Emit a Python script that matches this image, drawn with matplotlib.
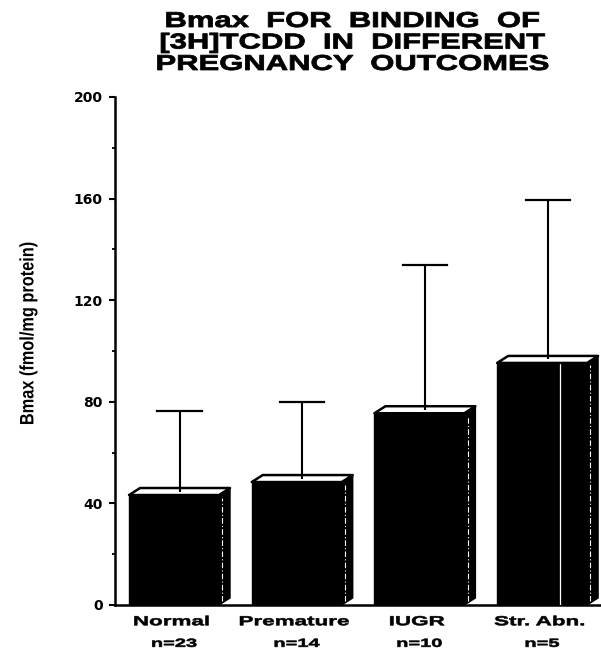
import matplotlib
matplotlib.use("Agg")
import matplotlib.pyplot as plt
import matplotlib.patheffects as pe
from matplotlib.patches import Rectangle, Polygon
from matplotlib.transforms import Affine2D
from matplotlib.ticker import MultipleLocator

# ---- data ----
categories = ["Normal", "Premature", "IUGR", "Str. Abn."]
n_labels = ["n=23", "n=14", "n=10", "n=5"]
bmax_mean = [43.3, 48.4, 75.5, 95.3]
bmax_sd = [33.2, 31.5, 58.4, 64.1]
y_ticks = [0, 40, 80, 120, 160, 200]
title = "Bmax  FOR  BINDING  OF\n[3H]TCDD  IN  DIFFERENT\nPREGNANCY  OUTCOMES"
ylabel = "Bmax (fmol/mg protein)"


class Stretch(pe.AbstractPathEffect):
    """Scale rendered text glyphs about their centre (keeps text as text)."""
    def __init__(self, sx=1.0, sy=1.0, stroke=0.0):
        super().__init__()
        self.sx, self.sy, self.stroke = sx, sy, stroke

    def draw_path(self, renderer, gc, tpath, affine, rgbFace=None):
        ext = tpath.get_extents(affine)
        cx = (ext.x0 + ext.x1) / 2
        cy = (ext.y0 + ext.y1) / 2
        t = affine + Affine2D().translate(-cx, -cy).scale(self.sx, self.sy).translate(cx, cy)
        if self.stroke > 0:
            gc0 = renderer.new_gc()
            gc0.copy_properties(gc)
            gc0.set_linewidth(self.stroke)
            gc0.set_foreground(rgbFace)
            renderer.draw_path(gc0, tpath, t, rgbFace)
            gc0.restore()
        else:
            renderer.draw_path(gc, tpath, t, rgbFace)


W, H = 601, 652
fig = plt.figure(figsize=(W / 100, H / 100), dpi=100)
ax = fig.add_axes([115 / W, (H - 605) / H, 485 / W, (605 - 97) / H])

xs = list(range(len(categories)))
bw = 0.733      # front face width
dx = 0.09       # depth offset (x)
dy = 2.76       # depth offset (y, data units)
capw = 0.36

for x, m, s in zip(xs, bmax_mean, bmax_sd):
    l, r = x - bw / 2, x + bw / 2
    ax.add_patch(Rectangle((l, 0), bw, m, facecolor="black", edgecolor="black", lw=1, zorder=2))
    ax.add_patch(Polygon([(r, 0), (r + dx, dy), (r + dx, m + dy), (r, m)],
                         closed=True, facecolor="black", edgecolor="black", lw=1, zorder=2))
    ax.plot([r + dx * 0.3, r + dx * 0.3], [dy * 0.5, m - 1], color="white",
            lw=0.8, ls=(0, (5, 2, 1, 2)), zorder=3)
    ax.add_patch(Polygon([(l, m), (l + dx, m + dy), (r + dx, m + dy), (r, m)],
                         closed=True, facecolor="white", edgecolor="black", lw=1.8,
                         joinstyle="round", zorder=4))
    ex = x + dx / 2
    ax.plot([ex, ex], [m + dy / 2, m + s], color="black", lw=1.5, zorder=5,
            solid_capstyle="butt")
    ax.plot([ex - capw / 2, ex + capw / 2], [m + s, m + s], color="black", lw=1.6, zorder=5)

# scan artefact: thin white stripe through the last bar
ax.plot([xs[-1] + 0.147] * 2, [0, bmax_mean[-1] + dy * 0.4], color="white", lw=0.9, zorder=3)

ax.set_xlim(-0.481, 3.472)
ax.set_ylim(0, 200)
ax.set_yticks(y_ticks)
ax.yaxis.set_minor_locator(MultipleLocator(20))
ax.set_yticklabels([str(v) for v in y_ticks], fontfamily="DejaVu Sans",
                   fontweight="bold", fontsize=10)
ax.tick_params(axis="y", which="major", length=4, width=1.5, pad=5, direction="out")
ax.tick_params(axis="y", which="minor", length=2.5, width=1.3, direction="out")
ax.set_xticks([])
for side in ("top", "right"):
    ax.spines[side].set_visible(False)
ax.spines["left"].set_linewidth(1.8)
ax.spines["bottom"].set_linewidth(1.8)

# category labels
for x, c, n in zip(xs, categories, n_labels):
    t1 = ax.text(x - 0.02, -6.8, c, ha="center", va="center", fontfamily="Liberation Sans",
                 fontweight="bold", fontsize=9.5, transform=ax.transData)
    t1.set_path_effects([Stretch(1.7, 1.0, stroke=0.4)])
    t2 = ax.text(x + 0.0, -15.3, n, ha="center", va="center", fontfamily="Liberation Sans",
                 fontweight="bold", fontsize=8.5, transform=ax.transData)
    t2.set_path_effects([Stretch(1.7, 1.0, stroke=0.4)])
    t1.set_clip_on(False)
    t2.set_clip_on(False)

yl = ax.set_ylabel(ylabel, fontfamily="Liberation Sans", fontweight="bold", fontsize=14)
ax.yaxis.set_label_coords(-0.16, 0.535)
yl.set_path_effects([Stretch(1.0, 0.84)])

tt = fig.text(352 / W, 1 - 11 / H, title, ha="center", va="top", fontfamily="Liberation Sans",
              fontweight="bold", fontsize=15.5, linespacing=1.03)
tt.set_path_effects([Stretch(1.44, 1.0, stroke=0.6)])

fig.savefig("out.png", dpi=100, facecolor="white")
